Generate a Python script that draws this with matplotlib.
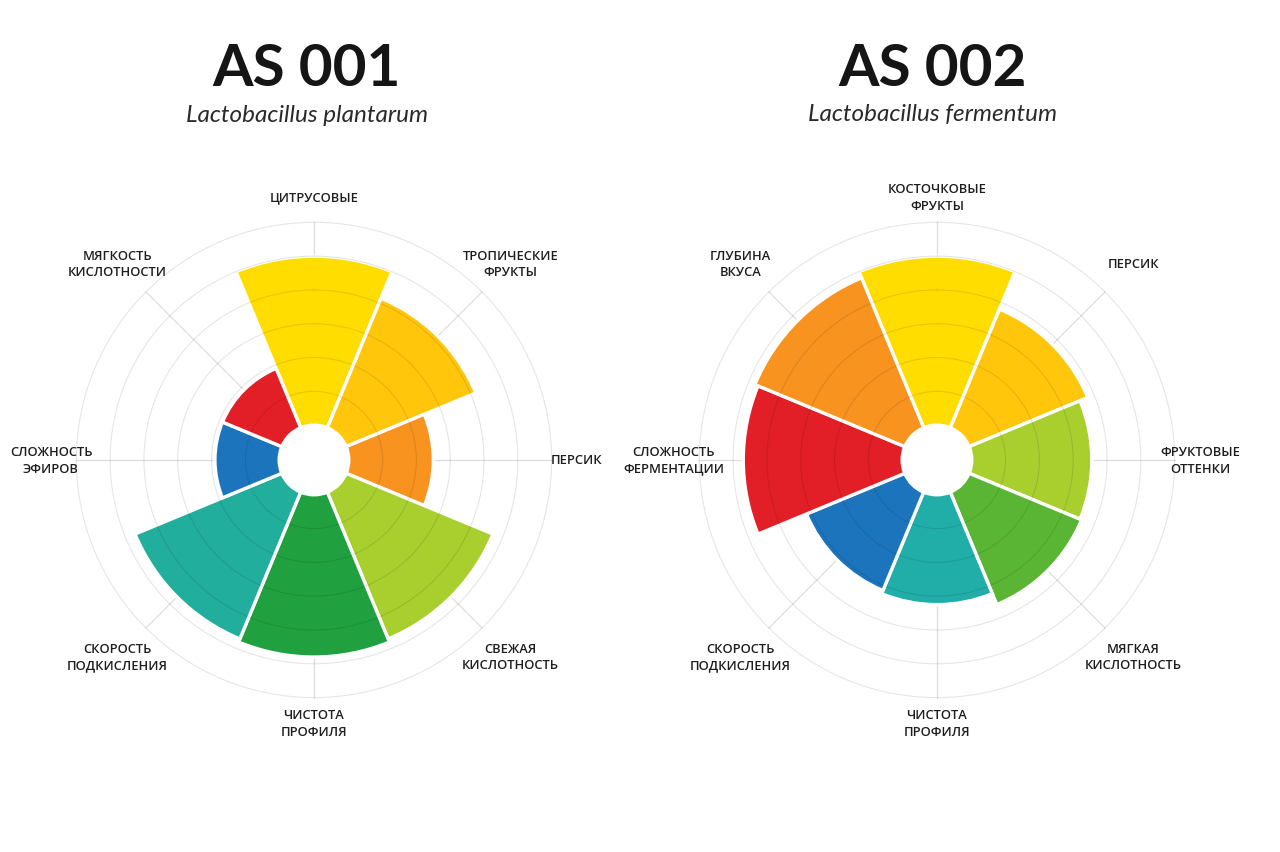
import numpy as np
import matplotlib.pyplot as plt

plt.rcParams['font.family'] = ['Open Sans', 'DejaVu Sans']

# AS 001
left_title = 'AS 001'
left_species = 'Lactobacillus plantarum'
left_labels = ['ЦИТРУСОВЫЕ', 'ТРОПИЧЕСКИЕ\nФРУКТЫ', 'ПЕРСИК', 'СВЕЖАЯ\nКИСЛОТНОСТЬ',
               'ЧИСТОТА\nПРОФИЛЯ', 'СКОРОСТЬ\nПОДКИСЛЕНИЯ', 'СЛОЖНОСТЬ\nЭФИРОВ',
               'МЯГКОСТЬ\nКИСЛОТНОСТИ']
left_values = [5.0, 4.15, 2.5, 4.7, 4.8, 4.7, 1.9, 1.9]
left_colors = ['#FFDD00', '#FFC60B', '#F7931E', '#A8CF2E', '#21A03F', '#22AE9C', '#1C75BC', '#E21F26']

# AS 002
right_title = 'AS 002'
right_species = 'Lactobacillus fermentum'
right_labels = ['КОСТОЧКОВЫЕ\nФРУКТЫ', 'ПЕРСИК', 'ФРУКТОВЫЕ\nОТТЕНКИ', 'МЯГКАЯ\nКИСЛОТНОСТЬ',
                'ЧИСТОТА\nПРОФИЛЯ', 'СКОРОСТЬ\nПОДКИСЛЕНИЯ', 'СЛОЖНОСТЬ\nФЕРМЕНТАЦИИ',
                'ГЛУБИНА\nВКУСА']
right_values = [5.0, 3.8, 3.55, 3.6, 3.25, 3.15, 4.7, 4.8]
right_colors = ['#FFDD00', '#FFC60B', '#A8CF2E', '#5BB534', '#21AEA9', '#1C75BC', '#E21F26', '#F7931E']

rmax = 6
hole = 1.03  # white hole in the middle, in grid units


def rose(ax, labels, values, colors):
    n = len(values)
    theta = np.arange(n) * 2 * np.pi / n
    ax.set_theta_zero_location('N')
    ax.set_theta_direction(-1)
    ax.set_ylim(0, hole + rmax + 0.04)
    # radial lines under the bars
    for t in theta:
        ax.plot([t, t], [hole, hole + rmax], color='#dedede', lw=0.9, zorder=0.5)
    ax.bar(theta, values, width=2 * np.pi / n, bottom=hole, color=colors,
           edgecolor='white', linewidth=2.4, zorder=1)
    # circles over the bars
    ax.set_axisbelow(False)
    ax.xaxis.grid(False)
    ax.set_yticks(hole + np.arange(1, rmax + 1))
    ax.yaxis.grid(True, color='black', alpha=0.1, lw=0.8)
    ax.set_yticklabels([])
    ax.set_xticks([])
    for s in ax.spines.values():
        s.set_visible(False)
    for t, lab in zip(theta, labels):
        cardinal = round(np.degrees(t)) % 90 == 0
        r = hole + (6.75 if cardinal else 7.2)
        ax.text(t, r, lab, ha='center', va='center', fontsize=9.3, fontweight='semibold',
                color='#1e1e1e', linespacing=1.35)


fig = plt.figure(figsize=(12.8, 8.53), dpi=100)
fig.patch.set_facecolor('white')

axl = fig.add_axes([0.0586, 0.1794, 0.3734, 0.5604], projection='polar')
axr = fig.add_axes([0.5453, 0.1794, 0.3734, 0.5604], projection='polar')
rose(axl, left_labels, left_values, left_colors)
rose(axr, right_labels, right_values, right_colors)

for x, title, species in [(307 / 1280, left_title, left_species), (933 / 1280, right_title, right_species)]:
    fig.text(x, 1 - 70 / 853, title, ha='center', va='center', fontsize=42, fontweight='bold',
             color='#151515', family=['Lato', 'DejaVu Sans'])
    fig.text(x, 1 - 115 / 853, species, ha='center', va='center', fontsize=17.5, style='italic',
             color='#2a2a2a', family=['Lato', 'DejaVu Sans'])

fig.savefig('out.png', dpi=100, facecolor='white')
